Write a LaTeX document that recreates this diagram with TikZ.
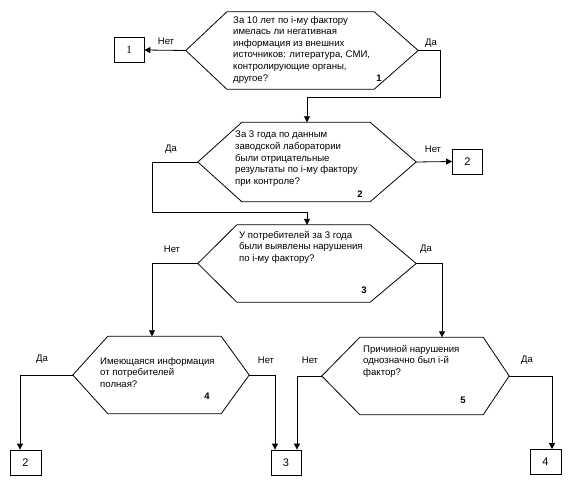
\documentclass[tikz,border=0pt]{standalone}
\usepackage{fontspec}
\setmainfont{Liberation Sans}
\newfontfamily\serifnum{Liberation Serif}
\usetikzlibrary{arrows.meta}
\tikzset{
  line/.style={draw=black, line width=0.8pt},
  arr/.style={line, -{Triangle[length=6pt,width=6pt]}},
  hexframe/.style={draw=none, inner sep=0pt, rectangle},
  qtext/.style={anchor=north west, inner sep=0pt, align=left, font=\fontsize{9.6}{11.6}\selectfont},
  numlbl/.style={inner sep=0pt, font=\fontsize{9.5}{11}\selectfont\bfseries},
  yn/.style={inner sep=0pt, font=\fontsize{9.5}{11}\selectfont},
  outbox/.style={draw=black, line width=0.8pt, inner sep=0pt, minimum width=30pt, minimum height=25pt, font=\fontsize{11}{12}\selectfont},
}
% \hexa{name}{left depth}{right depth}
\newcommand{\hexa}[3]{%
  \draw[line] ([xshift=#2]#1.north west) -- ([xshift=-#3]#1.north east) -- (#1.east)
    -- ([xshift=-#3]#1.south east) -- ([xshift=#2]#1.south west) -- (#1.west) -- cycle;}
\begin{document}
\begin{tikzpicture}[x=1pt,y=-1pt]
\useasboundingbox[fill=white] (0,0) rectangle (576,486);

% hexagon frames
\node[hexframe, minimum width=232pt, minimum height=77pt] (h1) at (302,50.5) {};
\node[hexframe, minimum width=218pt, minimum height=79pt] (h2) at (307,162) {};
\node[hexframe, minimum width=218pt, minimum height=77pt] (h3) at (307,263.5) {};
\node[hexframe, minimum width=176pt, minimum height=77pt] (h4) at (161,375) {};
\node[hexframe, minimum width=187pt, minimum height=77pt] (h5) at (415.5,376) {};
\hexa{h1}{41pt}{44pt}
\hexa{h2}{44pt}{46pt}
\hexa{h3}{39pt}{46pt}
\hexa{h4}{35pt}{28pt}
\hexa{h5}{38pt}{26pt}

% texts
\node[qtext] (t1) at (233,16) {За 10 лет по i-му фактору\\имелась ли негативная\\информация из внешних\\источников: литература, СМИ,\\контролирующие органы,\\другое?};
\node[numlbl] (n1) at (379,78) {1};
\node[qtext] (t2) at (235,131) {За 3 года по данным\\заводской лаборатории\\были отрицательные\\результаты по i-му фактору\\при контроле?};
\node[numlbl] (n2) at (360,194) {2};
\node[qtext] (t3) at (239,231) {У потребителей за 3 года\\были выявлены нарушения\\по i-му фактору?};
\node[numlbl] (n3) at (364,290) {3};
\node[qtext] (t4) at (100,357) {Имеющаяся информация\\от потребителей\\полная?};
\node[numlbl] (n4) at (207,396) {4};
\node[qtext] (t5) at (363,345) {Причиной нарушения\\однозначно был i-й\\фактор?};
\node[numlbl] (n5) at (463,400) {5};

% output boxes
\node[outbox, font=\fontsize{11}{12}\serifnum] (b1) at (129,50) {1};
\node[outbox] (b2a) at (467.5,161.5) {2};
\node[outbox, minimum width=31pt] (b2b) at (25.5,462.5) {2};
\node[outbox] (b3) at (286,462.5) {3};
\node[outbox, minimum width=31pt] (b4) at (545.5,462) {4};

% junction coordinates
\coordinate (j1) at (440,97);
\coordinate (j2) at (152,212);
\coordinate (j3) at (152,263.5);
\coordinate (j4) at (442,263.5);
\coordinate (j5) at (20,375);
\coordinate (j6) at (275,375);
\coordinate (j7) at (297,376);
\coordinate (j8) at (552,376);

% connectors
\draw[arr] (h1.west) -- (b1.east);
\draw[arr] (h1.east) -| (j1) -| (h2.north);
\draw[arr] (h2.east) -- (b2a.west);
\draw[arr] (h2.west) -| (j2) -| (h3.north);
\draw[arr] (h3.west) -- (j3) -- (j3 |- h4.north);
\draw[arr] (h3.east) -- (j4) -- (j4 |- h5.north);
\draw[arr] (h4.west) -- (j5) -- (j5 |- b2b.north);
\draw[arr] (h4.east) -- (j6) -- (j6 |- b3.north);
\draw[arr] (h5.west) -- (j7) -- (j7 |- b3.north);
\draw[arr] (h5.east) -- (j8) -- (j8 |- b4.north);

% yes/no labels
\node[yn] (l1n) at (166,41) {Нет};
\node[yn] (l1y) at (431,43) {Да};
\node[yn] (l2y) at (171,149) {Да};
\node[yn] (l2n) at (433,149) {Нет};
\node[yn] (l3n) at (172,249) {Нет};
\node[yn] (l3y) at (426,249) {Да};
\node[yn] (l4y) at (42,359) {Да};
\node[yn] (l4n) at (266,360) {Нет};
\node[yn] (l5n) at (310,360) {Нет};
\node[yn] (l5y) at (527,360) {Да};
\end{tikzpicture}
\end{document}
